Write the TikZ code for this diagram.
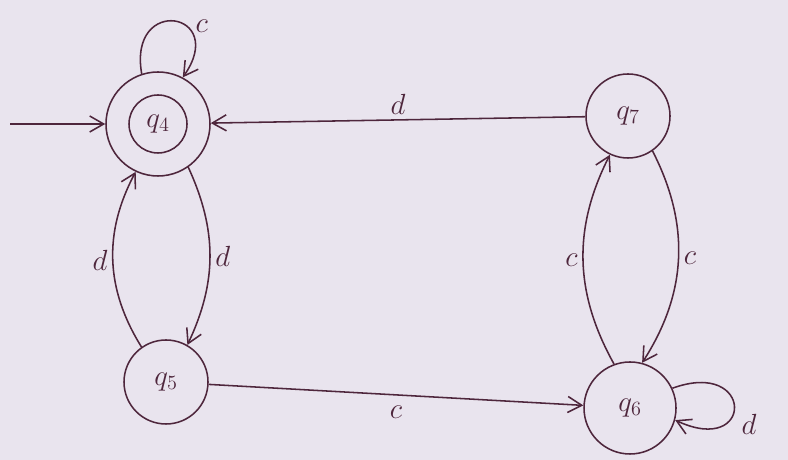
\documentclass[tikz,border=0pt]{standalone}
\usepackage{tikz}
\usetikzlibrary{arrows.meta,positioning,calc}
\definecolor{ink}{RGB}{78,38,60}
\definecolor{paper}{RGB}{233,228,238}

\begin{document}
\begin{tikzpicture}[
  x=1cm,y=1cm,
  state/.style={draw=ink, circle, line width=1.1pt, minimum size=2.1cm, font=\huge, text=ink, inner sep=0pt},
  inner/.style={draw=ink, circle, line width=1.1pt, minimum size=1.45cm, font=\huge, text=ink, inner sep=0pt},
  lbl/.style={font=\huge, text=ink},
  arr/.style={-{Straight Barb[length=3.5mm,width=4mm]}, line width=1.1pt, draw=ink}
]
\fill[paper] (0,0) rectangle (19.7,11.5);
\useasboundingbox (0,0) rectangle (19.7,11.5);
\node[state, minimum size=2.6cm] (q4) at (3.95,8.4) {};
\node[inner] (q4in) at (q4) {$q_4$};
\node[state] (q7) at (15.7,8.6) {$q_7$};
\node[state] (q5) at (4.15,1.95) {$q_5$};
\node[state, minimum size=2.3cm] (q6) at (15.75,1.3) {$q_6$};
\coordinate (start) at (0.25,8.4);
% start and loops
\draw[arr] (start) -- (q4);
\draw[arr] (q4.108) to[out=100,in=55,looseness=5] node[lbl,pos=0.62,right=3pt] {$c$} (q4.62);
\draw[arr] (q6.25) to[out=20,in=-25,looseness=7] node[lbl,below right=2pt] {$d$} (q6.-15);
% transitions
\draw[arr] (q7) -- node[lbl,above] {$d$} (q4);
\draw[arr] (q4.-55) to[bend left=25] node[lbl,right] {$d$} (q5.60);
\draw[arr] (q5.125) to[bend left=30] node[lbl,left] {$d$} (q4.-115);
\draw[arr] (q5) -- node[lbl,below=4pt] {$c$} (q6);
\draw[arr] (q7.-55) to[bend left=30] node[lbl,right] {$c$} (q6.75);
\draw[arr] (q6.110) to[bend left=28] node[lbl,left] {$c$} (q7.-115);
\end{tikzpicture}
\end{document}
